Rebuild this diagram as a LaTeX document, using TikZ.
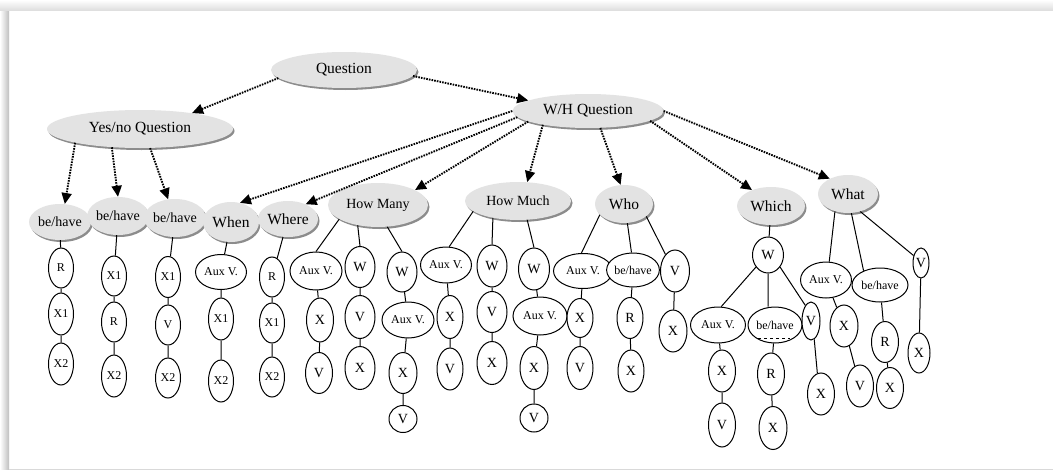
\documentclass[tikz,border=0pt]{standalone}
\usepackage{fontspec}
\setmainfont{Liberation Serif}
\usetikzlibrary{shapes.geometric,shadows,arrows.meta}

\begin{document}
\begin{tikzpicture}[x=1pt,y=-1pt,
  gnode/.style={ellipse, fill=gray!22, inner sep=0pt,
    drop shadow={shadow xshift=1.5pt, shadow yshift=-2pt, fill=black, opacity=0.45}},
  wnode/.style={ellipse, draw=black, line width=1pt, fill=white, inner sep=0pt},
  fq/.style={font=\fontsize{15.5}{15.5}\selectfont},
  fm/.style={font=\fontsize{14}{14}\selectfont},
  fw/.style={font=\fontsize{14}{14}\selectfont},
  fs/.style={font=\fontsize{12}{12}\selectfont},
  dotarrow/.style={line width=1.9pt, dash pattern=on 1.6pt off 1.1pt,
    -{Triangle[length=11pt,width=10pt]}},
  link/.style={line width=1pt},
  sz/.style 2 args={minimum width=#1pt, minimum height=#2pt}
]
\useasboundingbox (0,0) rectangle (1053,471);
% page panel with soft shadow on the left and top
\fill[white] (0,0) rectangle (1053,471);
\shade[left color=white, right color=gray!50] (0,10) rectangle (9,469);
\shade[top color=white, bottom color=gray!25] (0,0) rectangle (1053,10);
\draw[gray!30, line width=1pt] (9,469) -- (1053,469);

% ---- top levels ----
\node[gnode, fq, sz={146}{36}] (q) at (344,70) {Question};
\node[gnode, fq, sz={151}{34}] (wh) at (588,111) {W/H Question};
\node[gnode, fq, sz={186}{38}] (yn) at (140,129) {Yes/no Question};

% ---- question types ----
\node[gnode, fm, sz={62}{36}] (bha) at (60,222) {be/have};
\node[gnode, fm, sz={58}{38}] (bhb) at (118,216) {be/have};
\node[gnode, fm, sz={57}{38}] (bhc) at (175,218) {be/have};
\node[gnode, fq, sz={56}{40}] (when) at (231,222) {When};
\node[gnode, fq, sz={60}{36}] (where) at (288,219) {Where};
\node[gnode, fm, sz={100}{44}] (hmany) at (378,205) {How Many};
\node[gnode, fm, sz={106}{38}] (hmuch) at (518,201) {How Much};
\node[gnode, fq, sz={58}{38}] (who) at (624,204) {Who};
\node[gnode, fq, sz={68}{38}] (which) at (771,206) {Which};
\node[gnode, fq, sz={60}{38}] (what) at (848,194) {What};

% ---- yes/no patterns ----
\node[wnode, fs, sz={25}{40}] (a1) at (61,268) {R};
\node[wnode, fs, sz={25}{42}] (a2) at (61,314) {X1};
\node[wnode, fs, sz={25}{42}] (a3) at (61,364) {X2};
\node[wnode, fs, sz={25}{40}] (b1) at (114,276) {X1};
\node[wnode, fs, sz={25}{40}] (b2) at (114,322) {R};
\node[wnode, fs, sz={25}{42}] (b3) at (114,376) {X2};
\node[wnode, fs, sz={25}{41}] (c1) at (168,277) {X1};
\node[wnode, fs, sz={25}{40}] (c2) at (168,325) {V};
\node[wnode, fs, sz={25}{40}] (c3) at (168,378) {X2};

% ---- when / where ----
\node[wnode, fs, sz={51}{35}] (d1) at (221,272) {Aux V.};
\node[wnode, fs, sz={25}{42}] (d2) at (221,319) {X1};
\node[wnode, fs, sz={25}{42}] (d3) at (221,381) {X2};
\node[wnode, fs, sz={25}{40}] (e1) at (272,277) {R};
\node[wnode, fs, sz={25}{40}] (e2) at (272,323) {X1};
\node[wnode, fs, sz={25}{40}] (e3) at (272,377) {X2};

% ---- how many ----
\node[wnode, fs, sz={52}{38}] (f1) at (316,271) {Aux V.};
\node[wnode, fw, sz={27}{44}] (f2) at (320,320) {X};
\node[wnode, fw, sz={27}{41}] (f3) at (319,373) {V};
\node[wnode, fw, sz={30}{41}] (g1) at (360,267) {W};
\node[wnode, fw, sz={30}{43}] (g2) at (360,317) {V};
\node[wnode, fw, sz={30}{43}] (g3) at (360,368) {X};
\node[wnode, fw, sz={30}{40}] (h1) at (402,272) {W};
\node[wnode, fs, sz={52}{36}] (h2) at (408,320) {Aux V.};
\node[wnode, fw, sz={28}{41}] (h3) at (403,373) {X};
\node[wnode, fw, sz={28}{27}] (h4) at (403,419) {V};

% ---- how much ----
\node[wnode, fs, sz={51}{36}] (i1) at (446,265) {Aux V.};
\node[wnode, fw, sz={26}{43}] (i2) at (450,317) {X};
\node[wnode, fw, sz={26}{42}] (i3) at (450,369) {V};
\node[wnode, fw, sz={30}{42}] (j1) at (492,266) {W};
\node[wnode, fw, sz={30}{41}] (j2) at (492,312) {V};
\node[wnode, fw, sz={30}{43}] (j3) at (492,363) {X};
\node[wnode, fw, sz={31}{42}] (k1) at (534,269) {W};
\node[wnode, fs, sz={54}{38}] (k2) at (540,316) {Aux V.};
\node[wnode, fw, sz={28}{43}] (k3) at (534,368) {X};
\node[wnode, fw, sz={28}{28}] (k4) at (534,418) {V};

% ---- who ----
\node[wnode, fs, sz={59}{35}] (l1) at (583,271) {Aux V.};
\node[wnode, fw, sz={26}{39}] (l2) at (580,318) {X};
\node[wnode, fw, sz={26}{43}] (l3) at (580,368) {V};
\node[wnode, fs, sz={52}{34}] (m1) at (633,270) {be/have};
\node[wnode, fw, sz={26}{41}] (m2) at (630,318) {R};
\node[wnode, fw, sz={26}{42}] (m3) at (631,371) {X};
\node[wnode, fw, sz={29}{42}] (n1) at (675,271) {V};
\node[wnode, fw, sz={28}{42}] (n2) at (673,331) {X};

% ---- which ----
\node[wnode, fw, sz={31}{36}] (o0) at (768,255) {W};
\node[wnode, fs, sz={55}{36}] (o1) at (718,325) {Aux V.};
\node[wnode, fw, sz={27}{42}] (o2) at (722,371) {X};
\node[wnode, fw, sz={27}{44}] (o3) at (722,425) {V};
\node[wnode, fs, sz={54}{36}] (p1) at (775,325) {be/have};
\node[wnode, fw, sz={27}{42}] (p2) at (771,374) {R};
\node[wnode, fw, sz={28}{43}] (p3) at (773,428) {X};
\node[wnode, fw, sz={18}{38}] (r1) at (811,321) {V};
\node[wnode, fw, sz={27}{42}] (r2) at (821,394) {X};
\draw[line width=0.7pt, dash pattern=on 3pt off 3pt]
  ([xshift=-17pt,yshift=5pt]p1.south) -- ([xshift=15pt,yshift=5pt]p1.south);

% ---- what ----
\node[wnode, fs, sz={51}{36}] (s1) at (826,280) {Aux V.};
\node[wnode, fw, sz={28}{42}] (s2) at (844,326) {X};
\node[wnode, fw, sz={27}{42}] (s3) at (860,386) {V};
\node[wnode, fs, sz={56}{34}] (t1) at (880,285) {be/have};
\node[wnode, fw, sz={27}{41}] (t2) at (885,342) {R};
\node[wnode, fw, sz={27}{41}] (t3) at (890,388) {X};
\node[wnode, fw, sz={16}{30}] (u1) at (921,263) {V};
\node[wnode, fw, sz={22}{40}] (u2) at (919,353) {X};

% ---- dotted arrows ----
\draw[dotarrow] (q.187) -- (yn.17);
\draw[dotarrow] (q.-5) -- (wh.170);
\draw[dotarrow] (yn.192) -- (bha.75);
\draw[dotarrow] (yn.213) -- (bhb.north);
\draw[dotarrow] (yn.-62) -- (bhc.110);
\draw[dotarrow] (wh.180) -- (when.65);
\draw[dotarrow] (wh.185) -- (where.40);
\draw[dotarrow] (wh.190) -- (hmany.22);
\draw[dotarrow] (wh.197) -- (hmuch.64);
\draw[dotarrow] (wh.-54) -- (who.100);
\draw[dotarrow] (wh.-9) -- (which.140);
\draw[dotarrow] (wh.east) -- (what.140);

% ---- solid links ----
\draw[link] (bha) -- (a1) (a1) -- (a2) (a2) -- (a3);
\draw[link] (bhb) -- (b1) (b1) -- (b2) (b2) -- (b3);
\draw[link] (bhc) -- (c1) (c1) -- (c2) (c2) -- (c3);
\draw[link] (when) -- (d1) (d1) -- (d2) (d2) -- (d3);
\draw[link] (where) -- (e1) (e1) -- (e2) (e2) -- (e3);

\draw[link] (hmany.200) -- (f1.north) (f1) -- (f2) (f2) -- (f3);
\draw[link] (hmany.225) -- (g1.north) (g1) -- (g2) (g2) -- (g3);
\draw[link] (hmany.-67) -- (h1.north) (h1) -- (h2) (h2) -- (h3) (h3) -- (h4);

\draw[link] (hmuch.193) -- (i1.80) (i1) -- (i2) (i2) -- (i3);
\draw[link] (hmuch.214) -- (j1.north) (j1) -- (j2) (j2) -- (j3);
\draw[link] (hmuch.-64) -- (k1.north) (k1) -- (k2) (k2) -- (k3) (k3) -- (k4);

\draw[link] (who.204) -- (l1.95) (l1) -- (l2) (l2) -- (l3);
\draw[link] (who.-80) -- (m1.95) (m1) -- (m2) (m2) -- (m3);
\draw[link] (who.-29) -- (n1.120) (n1) -- (n2);

\draw[link] (which) -- (o0);
\draw[link] (o0.225) -- (o1.80) (o1) -- (o2) (o2) -- (o3);
\draw[link] (o0.south) -- (o0.south |- p1.north) (p1) -- (p2) (p2) -- (p3);
\draw[link] (o0.-45) -- (r1.110) (r1.-80) -- (r2.100);

\draw[link] (what.233) -- (s1.80) (s1) -- (s2) (s2) -- (s3);
\draw[link] (what.-80) -- (t1.139) (t1) -- (t2) (t2) -- (t3);
\draw[link] (what.-55) -- (u1.135) (u1) -- (u2);
\end{tikzpicture}
\end{document}
